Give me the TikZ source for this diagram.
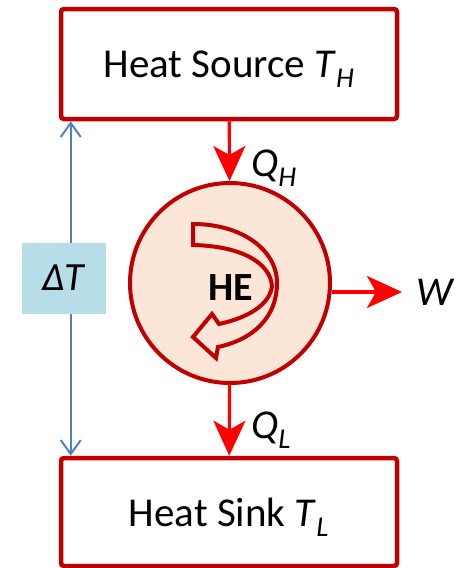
\documentclass[tikz,border=0pt]{standalone}
\usepackage{fontspec}
\setmainfont{Carlito}
\usetikzlibrary{arrows.meta,positioning,calc}
\definecolor{boxred}{HTML}{C00000}
\definecolor{flowred}{HTML}{FF0000}
\definecolor{peach}{HTML}{FCE6D8}
\definecolor{lineblue}{HTML}{4F81BD}
\definecolor{dtblue}{HTML}{B7DDE8}
\newcommand{\tsub}[2]{\textit{#1}\textsubscript{\textit{#2}}}
\tikzset{>=Latex,
  reservoir/.style={draw=boxred,line width=4.5pt,rounded corners=3pt,fill=white,minimum width=336pt,text depth=0pt,font=\fontsize{41}{45}\selectfont},
  engine/.style={circle,draw=boxred,line width=4pt,fill=peach,minimum size=200pt,inner sep=0pt},
  flow/.style={flowred,line width=3.2pt,-{Stealth[length=35pt,width=32pt,inset=9pt]}},
  span/.style={lineblue,line width=2pt,{Straight Barb[length=14pt,width=20pt]}-{Straight Barb[length=14pt,width=20pt]}},
  qlabel/.style={font=\fontsize{41}{45}\selectfont,inner sep=0pt}}
\begin{document}
\begin{tikzpicture}[x=1pt,y=-1pt]
\useasboundingbox (0,0) rectangle (459,568);
\node[reservoir,minimum height=110pt] (src) at (229,64) {Heat Source \tsub{T}{H}};
\node[reservoir,minimum height=108pt] (sink) at (229,512) {Heat Sink \tsub{T}{L}};
\node[engine] (he) at (230,283) {};
% curved arrow inside the engine
\draw[boxred,line width=4pt,line join=miter] (193,224) -- (193,245)
  .. controls (240,246) and (270,262) .. (272,286)
  .. controls (270,305) and (247,318) .. (219,324)
  -- (212,314) -- (193,337) -- (216,358) -- (218,347)
  .. controls (255,339) and (277,316) .. (277,283)
  .. controls (277,250) and (242,224) .. (193,224) -- cycle;
\node[font=\fontsize{40}{44}\selectfont\bfseries] (helabel) at (231,288) {HE};
\coordinate (wtip) at (402,292);
\draw[flow] (src) -- (he);
\draw[flow] (he) -- (sink);
\draw[flow] (he.east |- wtip) -- (wtip);
\node[qlabel,anchor=west] (qh) at (251,168) {\tsub{Q}{H}};
\node[qlabel,anchor=west] (ql) at (251,430) {\tsub{Q}{L}};
\node[qlabel,anchor=west] (w) at (416,292) {\textit{W}};
\draw[span] ([xshift=12pt]src.south west) -- ([xshift=12pt]sink.north west);
\node[fill=dtblue,minimum width=84pt,minimum height=71pt,font=\fontsize{40}{44}\selectfont] (dt) at (64,278) {\textit{ΔT}};
\end{tikzpicture}
\end{document}
